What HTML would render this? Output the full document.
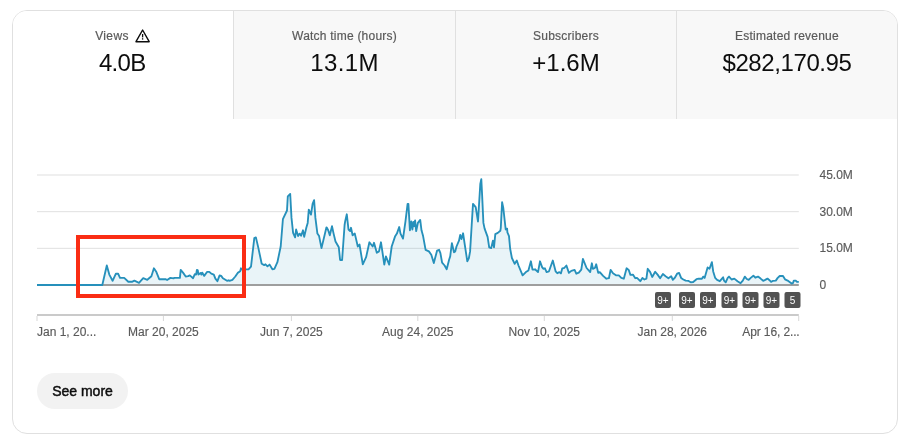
<!DOCTYPE html>
<html><head><meta charset="utf-8"><title>Analytics</title>
<style>
html,body{margin:0;padding:0;background:#fff;}
body{width:911px;height:442px;position:relative;overflow:hidden;font-family:"Liberation Sans",Arial,sans-serif;color:#0d0d0d;}
.card{position:absolute;left:12px;top:10px;width:884px;height:422px;border:1px solid #e0e0e0;border-radius:15px;background:#fff;overflow:hidden;}
.tabs{position:absolute;left:0;top:0;width:884px;height:108px;display:flex;}
.tab{width:221px;height:108px;box-sizing:border-box;background:#f8f8f8;border-left:1px solid #e0e0e0;text-align:center;position:relative;}
.tab.sel{background:#fff;border-left:none;}
.tab .lbl{position:absolute;left:0;right:0;top:17px;letter-spacing:0.22px;height:16px;line-height:16px;font-size:12px;color:#5a5a5a;-webkit-text-stroke:0.2px #5a5a5a;white-space:nowrap;}
.tab .val{position:absolute;left:0;right:0;top:37px;height:30px;line-height:30px;font-size:24px;color:#0d0d0d;white-space:nowrap;}
.warn{overflow:visible;display:inline-block;vertical-align:top;width:16px;height:16px;margin-left:6px;}
svg.chart{position:absolute;left:0;top:0;width:911px;height:442px;font-family:"Liberation Sans",Arial,sans-serif;}
.btn{position:absolute;left:37px;top:373px;width:91px;height:36px;border-radius:18px;background:#f2f2f2;text-align:center;line-height:36px;font-size:14px;color:#0d0d0d;-webkit-text-stroke:0.45px #0d0d0d;}
</style></head>
<body>
<div class="card">
 <div class="tabs">
  <div class="tab sel" style="width:220px"><div class="lbl"><span id="l1" style="letter-spacing:0.35px">Views</span><svg class="warn" viewBox="0 0 16 16"><path d="M7.6 2 L14.2 13.7 H1 Z" fill="none" stroke="#0d0d0d" stroke-width="1.4" stroke-linejoin="round"/><rect x="6.95" y="6" width="1.3" height="3.4" fill="#0d0d0d"/><rect x="6.95" y="10.2" width="1.3" height="1.4" fill="#0d0d0d"/></svg></div><div class="val"><span id="v1" style="letter-spacing:-0.7px;position:relative;left:-0.8px">4.0B</span></div></div>
  <div class="tab" style="width:222px"><div class="lbl"><span id="l2">Watch time (hours)</span></div><div class="val"><span id="v2" style="letter-spacing:0.35px">13.1M</span></div></div>
  <div class="tab"><div class="lbl"><span id="l3">Subscribers</span></div><div class="val"><span id="v3">+1.6M</span></div></div>
  <div class="tab"><div class="lbl"><span id="l4">Estimated revenue</span></div><div class="val"><span id="v4" style="letter-spacing:-0.4px">$282,170.95</span></div></div>
 </div>
</div>
<svg class="chart" viewBox="0 0 911 442">
 <g fill="#e0e0e0">
  <rect x="37" y="174.5" width="761.8" height="1"/>
  <rect x="37" y="211.17" width="761.8" height="1"/>
  <rect x="37" y="247.83" width="761.8" height="1"/>
 </g>
 <polygon points="37,285 37,285 102.3,285 106.8,265.5 109.3,274.6 112.6,280.8 115.9,273.7 118.1,273.7 120,277.9 124.2,277.9 128.3,281.7 132.4,281.7 134.4,280.7 139,282.8 143.2,278.2 147.3,279.8 151.4,276.2 153.9,268.3 156.4,272.1 159.2,279.2 165.5,279.2 167.1,280 170.4,277.9 173.7,278.4 174.1,277.9 179.9,277.9 180.7,269.9 183.2,272.9 185.7,276.5 188.2,276.2 189.8,275.4 193.1,278.2 194.8,274.2 196.1,274.6 196.9,269.9 197.8,270.4 198.4,274.6 200.6,272.9 201.4,274.6 202.2,272.6 204.2,275.9 207.2,271.8 209.3,271.8 211.3,273.7 213.8,274.6 215.4,278.7 217.4,281.2 219.6,275.4 221.2,275.9 222.9,278.2 227,280.8 228.6,280.3 229.5,280.8 232.4,279.8 235.3,276.5 237.7,272.9 240.2,271.3 241,268.3 242.2,269.6 246.3,269.3 248.5,269.3 251,266.6 254.3,238.2 255.9,237.4 258.4,248.1 261.7,263.8 264.2,265.1 265.5,264.3 267.5,266.3 269.6,264.6 272.4,269.3 274.4,268.8 277.4,262.2 280.7,246.5 282.9,219.2 287,210.5 287.8,196.4 290.2,194 291.5,217.9 293.1,232.8 295.1,237.4 296.1,229.5 298.1,236.1 299.7,233.6 301.1,235.8 303,230.3 304.2,236.9 306.3,227.8 307.7,222.9 308.8,209.6 311,214.6 312.6,203.9 314.1,200.1 315.4,217.9 317.4,233.6 319.1,236.1 321.5,248.1 326.4,227.5 326.7,227.5 328.2,230.3 329.8,235.3 332,226.2 333.6,233.6 335.5,241.5 338.8,247.3 340.1,260 342.1,260 344.6,225 345.2,221.2 346.8,214.3 348.5,229.5 350.1,231.1 351,227.8 352.6,235.3 354.8,233.6 357.8,246.5 359.5,244.5 362.8,264.3 366.1,257.2 369.4,242.3 372.7,246.5 374,242.8 376.8,252.8 379,251.4 381,242.3 384.3,264.6 385.9,256.4 389.2,264.6 391.7,246.5 395,236.6 396.9,233.6 399.2,227 400.5,233.6 403,238.6 405.5,221.2 407.6,203.9 408.4,203.9 409.9,230.3 411.3,221.5 412.4,229.5 413.4,222 414.2,226.2 415.1,220.4 416.2,231.1 417.9,222.9 420.2,219.9 421.5,230.3 423.1,236.1 425.6,249.8 428.9,251.4 431.3,254.7 433.8,263 437.1,250.6 439.1,249.8 440.4,253.1 442.1,262.7 444.6,265.5 446.7,269.3 449.1,259.7 450.2,256.4 451.9,243.2 454,252.3 455.2,251.4 456.5,246.5 459,240.7 460.2,234.9 461.5,239 463.1,233.3 464.8,244.8 467.3,261.3 468.9,258 470.1,251.4 471.7,225 473,203.9 475.7,207.2 478,221.5 480.3,184 481.3,179.1 482.1,194.8 483.4,222.9 484.6,228.6 487.6,236.9 489.2,247.3 491.2,248.1 492.9,240.7 494,247.3 495.3,234.1 497.8,232.9 500.3,230.8 500.8,227.8 502.1,202.2 503.3,208 505.7,229.5 507.1,228.6 507.4,232.4 509,236.1 509.1,237.4 510.2,249 511.9,258 514.7,263.8 516.8,260.5 518.5,265.5 522.6,275.4 525.9,272.1 528.4,270.4 530.9,261.3 532.5,269.6 535,269.3 538,272.1 540,261.3 542.1,267.1 543.3,268.8 544.9,268.3 546.6,272.1 549,271.3 552.8,260.5 555.6,271.3 557.3,273.2 559.3,272.1 560.9,273.4 562.3,268.3 564.2,268 566.4,265.5 568.9,272.9 571.3,270.9 574.6,269.9 576.3,273.7 578.8,272.6 581.3,269.6 582.9,258.9 586.6,268 590.2,272.1 591.9,263.3 592.9,268.8 594.9,268 596.2,264.3 598.2,272.9 599.8,272.1 603.1,275.9 606.4,278.7 608.9,278.2 610.6,269.9 613,273.2 616.3,275.4 618.8,275.4 621.3,277.9 623.8,278.7 626.6,268.3 628.7,269.9 630.4,274.9 632.9,274.6 635.3,278.2 637,277.9 640.3,281.2 642.4,277.9 644.4,279.5 646.4,278.7 647.7,268.8 650.2,272.1 652.2,277 655.2,271.8 657.6,274.6 660.1,278.2 662.9,274.1 665.6,276.2 668.4,278.2 671.2,276.2 672.8,279.8 675,277.5 677.1,273.7 679.1,272.9 681.1,277.9 683.3,279.5 685.7,280.7 688.2,280.8 690.7,282.3 693.2,282 696.5,279.2 698.6,278.7 701.9,278.7 703.3,276.6 704.6,277.9 707.6,267.4 709.5,268.7 711.9,262.1 713.2,271.4 715.2,277.9 717.1,279.9 719.8,281.2 723.1,277.3 724,280.6 725.7,282.3 727.7,277.9 729,276.6 731.6,279.5 734.3,278.6 737.5,281.2 740.6,283.2 742.8,280.6 744.8,276.6 746.8,279 748.7,279.9 750.7,277.9 753.4,275.7 755.3,277.7 758,276.6 760.6,278.6 763.2,280.8 765.2,279.9 767.5,278.6 769.2,279.9 771.1,281.9 773.1,280.8 775.8,280.6 777.7,277.9 779.7,276 783,276 785,279.3 787.6,280.6 791.6,283.6 792.9,283.2 793.8,280.6 795.5,280.6 797.2,281.9 798.8,281.9 798.8,285" fill="#2690bb" fill-opacity="0.1"/>
 <rect x="37" y="284" width="761.8" height="2" fill="#9e9e9e"/>
 <polyline points="37,285 102.3,285 106.8,265.5 109.3,274.6 112.6,280.8 115.9,273.7 118.1,273.7 120,277.9 124.2,277.9 128.3,281.7 132.4,281.7 134.4,280.7 139,282.8 143.2,278.2 147.3,279.8 151.4,276.2 153.9,268.3 156.4,272.1 159.2,279.2 165.5,279.2 167.1,280 170.4,277.9 173.7,278.4 174.1,277.9 179.9,277.9 180.7,269.9 183.2,272.9 185.7,276.5 188.2,276.2 189.8,275.4 193.1,278.2 194.8,274.2 196.1,274.6 196.9,269.9 197.8,270.4 198.4,274.6 200.6,272.9 201.4,274.6 202.2,272.6 204.2,275.9 207.2,271.8 209.3,271.8 211.3,273.7 213.8,274.6 215.4,278.7 217.4,281.2 219.6,275.4 221.2,275.9 222.9,278.2 227,280.8 228.6,280.3 229.5,280.8 232.4,279.8 235.3,276.5 237.7,272.9 240.2,271.3 241,268.3 242.2,269.6 246.3,269.3 248.5,269.3 251,266.6 254.3,238.2 255.9,237.4 258.4,248.1 261.7,263.8 264.2,265.1 265.5,264.3 267.5,266.3 269.6,264.6 272.4,269.3 274.4,268.8 277.4,262.2 280.7,246.5 282.9,219.2 287,210.5 287.8,196.4 290.2,194 291.5,217.9 293.1,232.8 295.1,237.4 296.1,229.5 298.1,236.1 299.7,233.6 301.1,235.8 303,230.3 304.2,236.9 306.3,227.8 307.7,222.9 308.8,209.6 311,214.6 312.6,203.9 314.1,200.1 315.4,217.9 317.4,233.6 319.1,236.1 321.5,248.1 326.4,227.5 326.7,227.5 328.2,230.3 329.8,235.3 332,226.2 333.6,233.6 335.5,241.5 338.8,247.3 340.1,260 342.1,260 344.6,225 345.2,221.2 346.8,214.3 348.5,229.5 350.1,231.1 351,227.8 352.6,235.3 354.8,233.6 357.8,246.5 359.5,244.5 362.8,264.3 366.1,257.2 369.4,242.3 372.7,246.5 374,242.8 376.8,252.8 379,251.4 381,242.3 384.3,264.6 385.9,256.4 389.2,264.6 391.7,246.5 395,236.6 396.9,233.6 399.2,227 400.5,233.6 403,238.6 405.5,221.2 407.6,203.9 408.4,203.9 409.9,230.3 411.3,221.5 412.4,229.5 413.4,222 414.2,226.2 415.1,220.4 416.2,231.1 417.9,222.9 420.2,219.9 421.5,230.3 423.1,236.1 425.6,249.8 428.9,251.4 431.3,254.7 433.8,263 437.1,250.6 439.1,249.8 440.4,253.1 442.1,262.7 444.6,265.5 446.7,269.3 449.1,259.7 450.2,256.4 451.9,243.2 454,252.3 455.2,251.4 456.5,246.5 459,240.7 460.2,234.9 461.5,239 463.1,233.3 464.8,244.8 467.3,261.3 468.9,258 470.1,251.4 471.7,225 473,203.9 475.7,207.2 478,221.5 480.3,184 481.3,179.1 482.1,194.8 483.4,222.9 484.6,228.6 487.6,236.9 489.2,247.3 491.2,248.1 492.9,240.7 494,247.3 495.3,234.1 497.8,232.9 500.3,230.8 500.8,227.8 502.1,202.2 503.3,208 505.7,229.5 507.1,228.6 507.4,232.4 509,236.1 509.1,237.4 510.2,249 511.9,258 514.7,263.8 516.8,260.5 518.5,265.5 522.6,275.4 525.9,272.1 528.4,270.4 530.9,261.3 532.5,269.6 535,269.3 538,272.1 540,261.3 542.1,267.1 543.3,268.8 544.9,268.3 546.6,272.1 549,271.3 552.8,260.5 555.6,271.3 557.3,273.2 559.3,272.1 560.9,273.4 562.3,268.3 564.2,268 566.4,265.5 568.9,272.9 571.3,270.9 574.6,269.9 576.3,273.7 578.8,272.6 581.3,269.6 582.9,258.9 586.6,268 590.2,272.1 591.9,263.3 592.9,268.8 594.9,268 596.2,264.3 598.2,272.9 599.8,272.1 603.1,275.9 606.4,278.7 608.9,278.2 610.6,269.9 613,273.2 616.3,275.4 618.8,275.4 621.3,277.9 623.8,278.7 626.6,268.3 628.7,269.9 630.4,274.9 632.9,274.6 635.3,278.2 637,277.9 640.3,281.2 642.4,277.9 644.4,279.5 646.4,278.7 647.7,268.8 650.2,272.1 652.2,277 655.2,271.8 657.6,274.6 660.1,278.2 662.9,274.1 665.6,276.2 668.4,278.2 671.2,276.2 672.8,279.8 675,277.5 677.1,273.7 679.1,272.9 681.1,277.9 683.3,279.5 685.7,280.7 688.2,280.8 690.7,282.3 693.2,282 696.5,279.2 698.6,278.7 701.9,278.7 703.3,276.6 704.6,277.9 707.6,267.4 709.5,268.7 711.9,262.1 713.2,271.4 715.2,277.9 717.1,279.9 719.8,281.2 723.1,277.3 724,280.6 725.7,282.3 727.7,277.9 729,276.6 731.6,279.5 734.3,278.6 737.5,281.2 740.6,283.2 742.8,280.6 744.8,276.6 746.8,279 748.7,279.9 750.7,277.9 753.4,275.7 755.3,277.7 758,276.6 760.6,278.6 763.2,280.8 765.2,279.9 767.5,278.6 769.2,279.9 771.1,281.9 773.1,280.8 775.8,280.6 777.7,277.9 779.7,276 783,276 785,279.3 787.6,280.6 791.6,283.6 792.9,283.2 793.8,280.6 795.5,280.6 797.2,281.9 798.8,281.9" fill="none" stroke="#2690bb" stroke-width="1.85" stroke-linejoin="round"/>
 <rect x="37" y="284" width="65.3" height="2" fill="#2690bb"/>
 <rect x="37" y="314" width="761.8" height="2" fill="#cacaca"/>
 <rect x="36.5" y="316" width="1" height="5" fill="#d8d8d8"/><rect x="162.9" y="316" width="1" height="5" fill="#d8d8d8"/><rect x="290.9" y="316" width="1" height="5" fill="#d8d8d8"/><rect x="417.3" y="316" width="1" height="5" fill="#d8d8d8"/><rect x="543.8" y="316" width="1" height="5" fill="#d8d8d8"/><rect x="671.8" y="316" width="1" height="5" fill="#d8d8d8"/><rect x="798.2" y="316" width="1" height="5" fill="#d8d8d8"/>
 <rect x="655" y="292" width="16" height="16" rx="2" fill="#525252"/><text x="663" y="304" text-anchor="middle" font-size="10" fill="#fff">9+</text><rect x="679" y="292" width="16" height="16" rx="2" fill="#525252"/><text x="687" y="304" text-anchor="middle" font-size="10" fill="#fff">9+</text><rect x="700" y="292" width="16" height="16" rx="2" fill="#525252"/><text x="708" y="304" text-anchor="middle" font-size="10" fill="#fff">9+</text><rect x="721.5" y="292" width="16" height="16" rx="2" fill="#525252"/><text x="729.5" y="304" text-anchor="middle" font-size="10" fill="#fff">9+</text><rect x="742.5" y="292" width="16" height="16" rx="2" fill="#525252"/><text x="750.5" y="304" text-anchor="middle" font-size="10" fill="#fff">9+</text><rect x="763.5" y="292" width="16" height="16" rx="2" fill="#525252"/><text x="771.5" y="304" text-anchor="middle" font-size="10" fill="#fff">9+</text><rect x="784.5" y="292" width="16" height="16" rx="2" fill="#525252"/><text x="792.5" y="304" text-anchor="middle" font-size="10" fill="#fff">5</text>
 <g font-size="12" fill="#5a5a5a" stroke="#5a5a5a" stroke-width="0.15">
  <text x="819.5" y="178.8">45.0M</text>
  <text x="819.5" y="215.5">30.0M</text>
  <text x="819.5" y="252.1">15.0M</text>
  <text x="819.5" y="288.8">0</text>
  <text id="a1" x="37" y="336">Jan 1, 20...</text>
  <text id="a2" x="163.4" y="336" text-anchor="middle">Mar 20, 2025</text>
  <text id="a3" x="291.4" y="336" text-anchor="middle">Jun 7, 2025</text>
  <text id="a4" x="417.8" y="336" text-anchor="middle">Aug 24, 2025</text>
  <text id="a5" x="544.3" y="336" text-anchor="middle">Nov 10, 2025</text>
  <text id="a6" x="672.3" y="336" text-anchor="middle">Jan 28, 2026</text>
  <text id="a7" x="799.6" y="336" text-anchor="end" letter-spacing="-0.12">Apr 16, 2...</text>
 </g>
 <rect x="78" y="237" width="166" height="59" fill="none" stroke="#fa2d14" stroke-width="4"/>
</svg>
<div class="btn">See more</div>
</body></html>
